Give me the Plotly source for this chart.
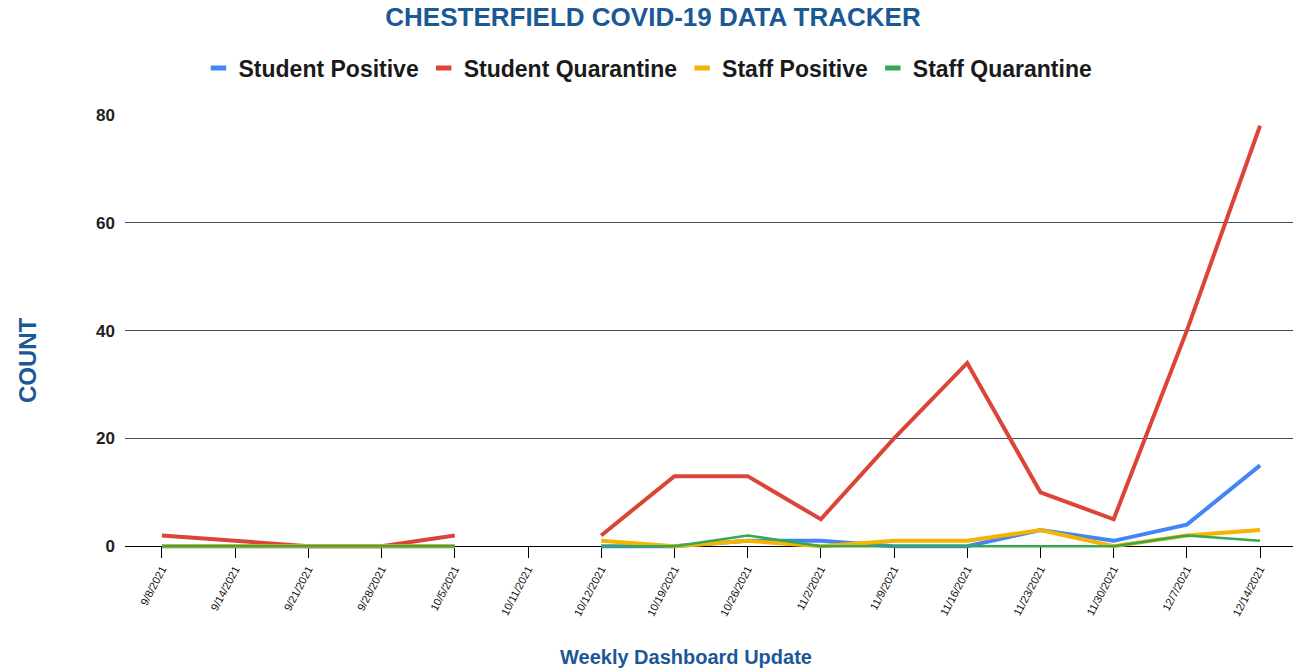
import plotly.graph_objects as go

dates = ["9/8/2021", "9/14/2021", "9/21/2021", "9/28/2021", "10/5/2021", "10/11/2021",
         "10/12/2021", "10/19/2021", "10/26/2021", "11/2/2021", "11/9/2021", "11/16/2021",
         "11/23/2021", "11/30/2021", "12/7/2021", "12/14/2021"]

student_positive = [0, 0, 0, 0, 0, None, 0, 0, 1, 1, 0, 0, 3, 1, 4, 15]
student_quarantine = [2, 1, 0, 0, 2, None, 2, 13, 13, 5, 20, 34, 10, 5, 40, 78]
staff_positive = [0, 0, 0, 0, 0, None, 1, 0, 1, 0, 1, 1, 3, 0, 2, 3]
staff_quarantine = [0, 0, 0, 0, 0, None, 0, 0, 2, 0, 0, 0, 0, 0, 2, 1]

y_ticks = [0, 20, 40, 60, 80]

series = [
    ("Student Positive", student_positive, "#4285F4", 4),
    ("Student Quarantine", student_quarantine, "#DB4437", 4),
    ("Staff Positive", staff_positive, "#F4B400", 4),
    ("Staff Quarantine", staff_quarantine, "#34A853", 2.5),
]

BLUE = "#1b5996"
fig = go.Figure()
for name, vals, color, w in series:
    fig.add_trace(go.Scatter(x=dates, y=vals, mode="lines", name=name,
                             line=dict(color=color, width=w), showlegend=False,
                             connectgaps=False))
for name, vals, color, w in series:
    fig.add_trace(go.Scatter(x=[dates[0]], y=[None], mode="markers", name=name,
                             marker=dict(symbol="line-ew", size=11,
                                         line=dict(color=color, width=5)),
                             showlegend=True))

# plot area geometry
L, R_EDGE, TOP, BOT = 125, 1293, 115, 556.8
W, H = 1293, 668
plot_w = R_EDGE - L
plot_h = BOT - TOP

def px_x(px):
    return (px - L) / plot_w

def px_y(py):
    return (BOT - py) / plot_h

fig.update_layout(
    width=W, height=H,
    margin=dict(l=L, r=W - R_EDGE, t=TOP, b=H - BOT, pad=0),
    paper_bgcolor="white", plot_bgcolor="white",
    font=dict(family="Arial, Liberation Sans, sans-serif", color="#222222"),
    title=dict(text="<b>CHESTERFIELD COVID-19 DATA TRACKER</b>",
               font=dict(size=26, color=BLUE, family="Arial, Liberation Sans, sans-serif"),
               x=653 / W, xref="container", xanchor="center",
               y=1 - 17 / H, yref="container", yanchor="middle"),
    legend=dict(orientation="h", xref="container", x=648 / W, xanchor="center",
                yref="container", y=1 - 68 / H, yanchor="middle",
                font=dict(size=23, color="#1a1a1a", family="Arial, Liberation Sans, sans-serif",
                          weight="bold"),
                bgcolor="rgba(0,0,0,0)"),
    showlegend=True,
)

fig.update_xaxes(
    type="category", categoryorder="array", categoryarray=dates,
    range=[-0.505, 15.45],
    anchor="free", position=px_y(546),
    showline=True, linecolor="black", linewidth=1.2,
    ticks="outside", ticklen=11, tickcolor="black", tickwidth=1.2,
    tickangle=-62, tickfont=dict(size=11, color="#111111"),
    showgrid=False, layer="below traces",
)

fig.update_yaxes(
    range=[-2, 80], tickvals=y_ticks, ticktext=[str(v) for v in y_ticks],
    showgrid=True, gridcolor="#3d4f63", gridwidth=1,
    zeroline=False, showline=False, ticks="",
    tickfont=dict(size=17, color="#222222", weight="bold"),
    ticklabelstandoff=9,
    layer="below traces",
)

fig.add_annotation(text="<b>COUNT</b>", textangle=-90, xref="paper", yref="paper",
                   x=px_x(27), y=px_y(360), xanchor="center", yanchor="middle",
                   showarrow=False, font=dict(size=24, color=BLUE))
fig.add_annotation(text="<b>Weekly Dashboard Update</b>", xref="paper", yref="paper",
                   x=px_x(686), y=px_y(657), xanchor="center", yanchor="middle",
                   showarrow=False, font=dict(size=20, color=BLUE))

fig.write_html(
    "out.html",
    config={"displayModeBar": False},
    post_script="document.body.style.margin='0';document.body.style.overflow='hidden';",
)
